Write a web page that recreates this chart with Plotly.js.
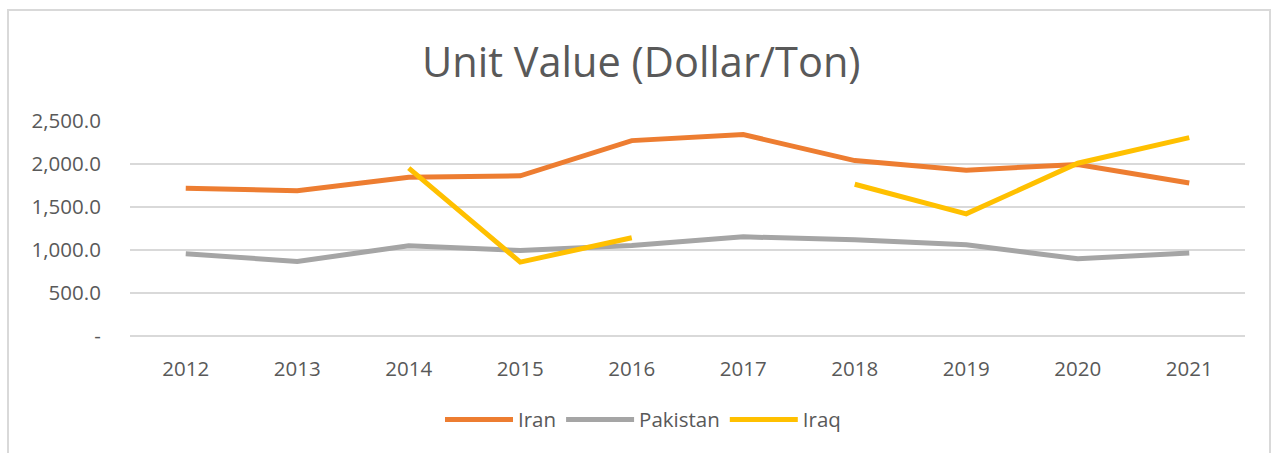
<!DOCTYPE html>
<html>
<head>
<meta charset="utf-8">
<script src="https://cdn.plot.ly/plotly-3.0.1.min.js"></script>
<style>
  html, body { margin: 0; padding: 0; background: #fff; }
  #wrap { position: relative; width: 1275px; height: 453px; overflow: hidden; }
  #chart { width: 1275px; height: 453px; }
  #frame { position: absolute; left: 7px; top: 9px; width: 1264px; height: 470px;
           border: 2px solid #D9D9D9; pointer-events: none; box-sizing: border-box; }
</style>
</head>
<body>
<div id="wrap">
  <div id="chart"></div>
  <div id="frame"></div>
</div>
<script>
const years = ['2012','2013','2014','2015','2016','2017','2018','2019','2020','2021'];
const iran = [1719, 1688, 1847, 1862, 2272, 2342, 2040, 1928, 1995, 1780];
const pakistan = [956, 867, 1049, 994, 1052, 1153, 1118, 1060, 898, 964];
const iraq = [null, null, 1951, 859, 1142, null, 1765, 1420, 2009, 2307];
const yTickVals = [0, 500, 1000, 1500, 2000, 2500];
const yTickText = ['-', '500.0', '1,000.0', '1,500.0', '2,000.0', '2,500.0'];

const font = 'Open Sans, Noto Sans, sans-serif';
const textColor = '#595959';

function line(name, y, color) {
  return { x: years, y: y, name: name, type: 'scatter', mode: 'lines',
           connectgaps: false, line: { color: color, width: 5 } };
}

const data = [
  line('Iran', iran, '#ED7D31'),
  line('Pakistan', pakistan, '#A5A5A5'),
  line('Iraq', iraq, '#FFC000')
];

const layout = {
  width: 1275, height: 453,
  margin: { l: 130, r: 30, t: 121, b: 117, pad: 0 },
  paper_bgcolor: '#fff', plot_bgcolor: '#fff',
  font: { family: font, color: textColor, size: 20 },
  title: { text: 'Unit Value (Dollar/Ton)', x: 0.503, xanchor: 'center',
           y: 1 - 62/453, yanchor: 'middle', yref: 'container',
           font: { family: font, size: 41.5, color: textColor } },
  xaxis: { type: 'category', range: [-0.5, 9.5], showgrid: false, zeroline: false,
           showline: false, ticks: 'outside', ticklen: 14, tickcolor: 'rgba(0,0,0,0)',
           tickfont: { size: 20.5, color: textColor }, fixedrange: true },
  yaxis: { range: [0, 2500], tickvals: yTickVals, ticktext: yTickText,
           showgrid: true, gridcolor: '#D9D9D9', gridwidth: 1.5,
           zeroline: true, zerolinecolor: '#D9D9D9', zerolinewidth: 1.5,
           showline: false, ticks: 'outside', ticklen: 24, tickcolor: 'rgba(0,0,0,0)',
           tickfont: { size: 20.5, color: textColor }, fixedrange: true },
  showlegend: true,
  legend: { orientation: 'h', x: (643 - 130) / 1115, xanchor: 'center', y: (336.3 - 420) / 215.3,
            yanchor: 'middle', font: { size: 20.5, color: textColor },
            itemwidth: 68, tracegroupgap: 0 },
  hovermode: false
};

Plotly.newPlot('chart', data, layout, { displayModeBar: false, staticPlot: true });
</script>
</body>
</html>
